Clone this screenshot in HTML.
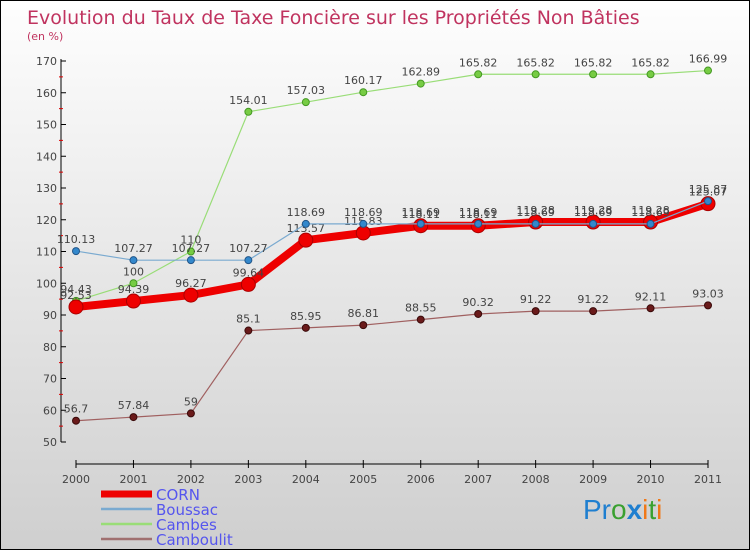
<!DOCTYPE html>
<html><head><meta charset="utf-8"><style>
body{margin:0}
#wrap{width:750px;height:550px;position:relative;box-sizing:border-box;border:1px solid #000;background:linear-gradient(#fefefe,#cfcfcf);font-family:"DejaVu Sans","Liberation Sans",sans-serif;overflow:hidden}
svg{position:absolute;left:0;top:0}
</style></head><body>
<div id="wrap">
<svg id="svg" width="750" height="550">
<text x="26" y="23" font-size="19" fill="#c0335f">Evolution du Taux de Taxe Foncière sur les Propriétés Non Bâties</text>
<text x="26" y="39" font-size="11" fill="#c0335f">(en %)</text>
<g id="axes"></g><g id="series"></g><g id="legend"></g>
<text x="582" y="518" font-size="28" font-family="Liberation Sans,sans-serif"><tspan fill="#1f7fd0">Pr</tspan><tspan fill="#3aa030">o</tspan><tspan fill="#1f7fd0" font-weight="bold">x</tspan><tspan fill="#f07818">i</tspan><tspan fill="#3aa030">t</tspan><tspan fill="#f07818">i</tspan></text>
</svg></div>
<script>
const years=[2000,2001,2002,2003,2004,2005,2006,2007,2008,2009,2010,2011];
const yTicks=[50,60,70,80,90,100,110,120,130,140,150,160,170];
const corn=[92.53,94.39,96.27,99.64,113.57,115.83,118.11,118.11,119.28,119.28,119.28,125.07];
const boussac=[110.13,107.27,107.27,107.27,118.69,118.69,118.69,118.69,118.69,118.69,118.69,125.87];
const cambes=[94.43,100,110,154.01,157.03,160.17,162.89,165.82,165.82,165.82,165.82,166.99];
const camboulit=[56.7,57.84,59,85.1,85.95,86.81,88.55,90.32,91.22,91.22,92.11,93.03];
const NS="http://www.w3.org/2000/svg";
function X(i){return 75+i*(707-75)/(years.length-1);}
function Y(v){return 441-(v-50)*(441-60)/120;}
function mk(t,a,p){const e=document.createElementNS(NS,t);for(const k in a)e.setAttribute(k,a[k]);p.appendChild(e);return e;}
const ax=document.getElementById('axes');
let yl=mk('line',{x1:60,y1:58,x2:60,y2:441,stroke:'#000'},ax);


yTicks.forEach((v,i)=>{
 mk('line',{x1:60,y1:Y(v),x2:65,y2:Y(v),stroke:'#000'},ax);
 if(i<yTicks.length-1)mk('line',{x1:58,y1:Y(v+5),x2:62,y2:Y(v+5),stroke:'#d00'},ax);
 const t=mk('text',{x:56,y:Y(v)+4,'font-size':11,'text-anchor':'end',fill:'#444'},ax);t.textContent=v;
 
 
});
let xl=mk('line',{x1:75,y1:463,x2:707,y2:463,stroke:'#000'},ax);


years.forEach((y,i)=>{
 mk('line',{x1:X(i),y1:459,x2:X(i),y2:467,stroke:'#000'},ax);
 const t=mk('text',{x:X(i),y:482,'font-size':11,'text-anchor':'middle',fill:'#444'},ax);t.textContent=y;
 
 
});
const sg=document.getElementById('series');
function series(vals,name,color,w,r,fill,stroke){
 const g=mk('g',{},sg);
 
 
 mk('polyline',{points:vals.map((v,i)=>X(i)+','+Y(v)).join(' '),fill:'none',stroke:color,'stroke-width':w},g);
 vals.forEach((v,i)=>{
  const c=mk('circle',{cx:X(i),cy:Y(v),r:r,fill:fill,stroke:stroke,'stroke-width':1},g);
  
  
  const t=mk('text',{x:X(i),y:Y(v)-8,'font-size':11,'text-anchor':'middle',fill:'#444'},g);t.textContent=v;
 });
}
series(camboulit,'camboulit','#a06060',1.2,3.5,'#6a1a1a','#3a0a0a');
series(cambes,'cambes','#99dd77',1.2,3.5,'#77cc44','#449922');
series(corn,'corn','#ee0000',8,7,'#ee0000','#aa0000');
series(boussac,'boussac','#7aaad0',1.2,3.5,'#3388cc','#225588');
const lg=document.getElementById('legend');
const L=[['CORN','#ee0000',7],['Boussac','#7aaad0',2.5],['Cambes','#99dd77',2.5],['Camboulit','#a07070',2.5]];
L.forEach((l,i)=>{
 const g=mk('g',{},lg);
 
 
 const y=493+i*15;
 mk('line',{x1:100,y1:y,x2:151,y2:y,stroke:l[1],'stroke-width':l[2]},g);
 const t=mk('text',{x:155,y:y+6,'font-size':15,fill:'#5555ee'},g);t.textContent=l[0];
});
</script>
</body></html>
